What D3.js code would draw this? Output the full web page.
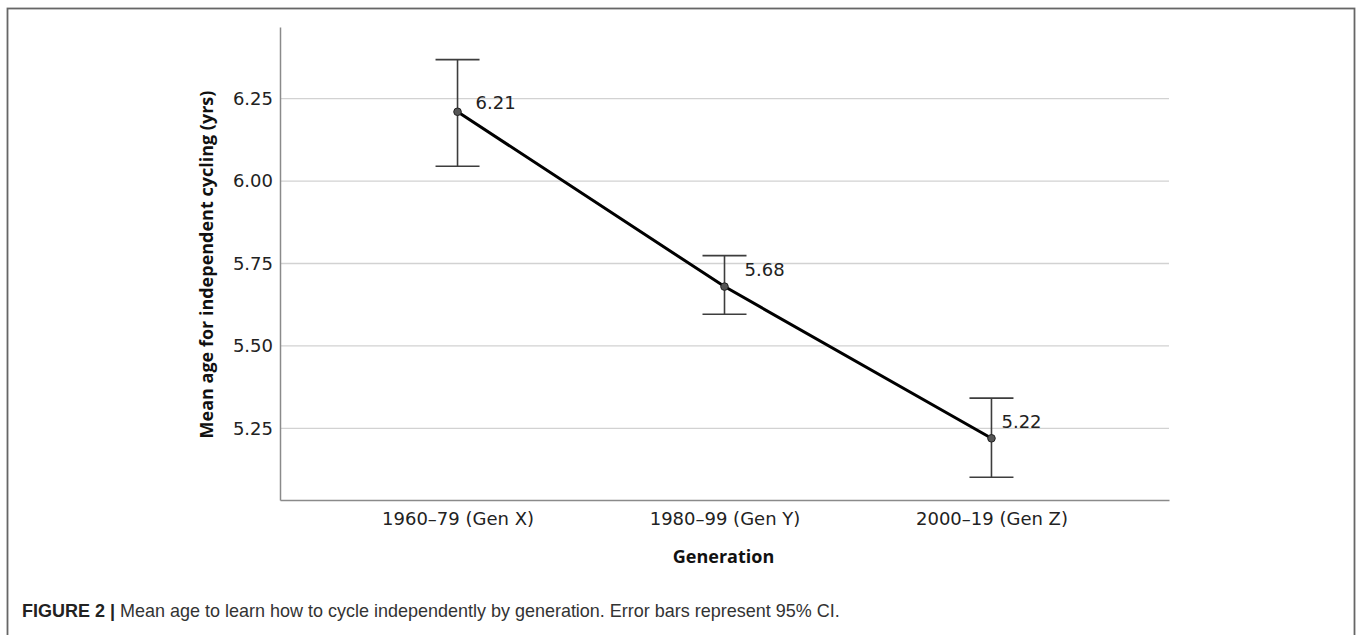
<!DOCTYPE html>
<html>
<head>
<meta charset="utf-8">
<script src="https://cdn.jsdelivr.net/npm/d3@7"></script>
<style>
  body { margin: 0; background: #fff; }
  .tick-label { font-family: "DejaVu Sans", sans-serif; font-size: 18px; fill: #222; }
  .axis-title { font-family: "Open Sans", sans-serif; font-size: 18px; font-weight: bold; fill: #111; }
  .caption { font-family: "Liberation Sans", Arial, sans-serif; font-size: 17px; fill: #333; }
</style>
</head>
<body>
<div id="chart"></div>
<script>
// data
const generations = ["1960–79 (Gen X)", "1980–99 (Gen Y)", "2000–19 (Gen Z)"];
const means = [6.21, 5.68, 5.22];
const ciLower = [6.045, 5.596, 5.102];
const ciUpper = [6.368, 5.774, 5.342];
const yTicks = [5.25, 5.5, 5.75, 6.0, 6.25];
const yDomain = [5.033, 6.467];

const width = 1357, height = 635;
const margin = { top: 27, right: 188, bottom: 135, left: 280 };
const innerW = width - margin.left - margin.right;
const innerH = height - margin.top - margin.bottom;

const svg = d3.select("#chart").append("svg")
  .attr("width", width)
  .attr("height", height);

// figure frame (bottom edge runs off the page)
svg.append("rect")
  .attr("x", 7.5).attr("y", 8.5)
  .attr("width", 1347).attr("height", 700)
  .attr("fill", "none")
  .attr("stroke", "#666")
  .attr("stroke-width", 1.8);

const chart = svg.append("g")
  .attr("transform", `translate(${margin.left},${margin.top})`);

const x = d3.scalePoint().domain(generations).range([0, innerW]).padding(0.665);
const y = d3.scaleLinear().domain(yDomain).range([innerH, 0]);

// gridlines
chart.append("g")
  .selectAll("line")
  .data(yTicks)
  .join("line")
  .attr("x1", 0).attr("x2", innerW)
  .attr("y1", d => y(d)).attr("y2", d => y(d))
  .attr("stroke", "#d2d2d2")
  .attr("stroke-width", 1.3);

// y axis
const yAxis = d3.axisLeft(y).tickValues(yTicks).tickFormat(d3.format(".2f")).tickSize(0).tickPadding(7);
const yG = chart.append("g").call(yAxis);
yG.select(".domain").attr("stroke", "#8a8a8a").attr("stroke-width", 1.5);
yG.selectAll("text").attr("class", "tick-label").attr("font-size", null).attr("font-family", null);

// x axis
const xAxis = d3.axisBottom(x).tickSize(0).tickPadding(12);
const xG = chart.append("g").attr("transform", `translate(0,${innerH})`).call(xAxis);
xG.select(".domain").attr("stroke", "#8a8a8a").attr("stroke-width", 1.5);
xG.selectAll("text").attr("class", "tick-label").attr("font-size", null).attr("font-family", null);

// axis titles
chart.append("text")
  .attr("class", "axis-title")
  .attr("transform", `translate(${-72},${innerH / 2 + 1}) rotate(-90)`)
  .attr("text-anchor", "middle")
  .attr("dominant-baseline", "middle")
  .text("Mean age for independent cycling (yrs)");

chart.append("text")
  .attr("class", "axis-title")
  .attr("x", innerW / 2 - 1)
  .attr("y", innerH + 63)
  .attr("text-anchor", "middle")
  .text("Generation");

const pts = generations.map((g, i) => ({ g, m: means[i], lo: ciLower[i], hi: ciUpper[i] }));

// error bars
const capW = 22;
const eb = chart.append("g").selectAll("g").data(pts).join("g")
  .attr("stroke", "#3d3d3d").attr("stroke-width", 1.6);
eb.append("line")
  .attr("x1", d => x(d.g)).attr("x2", d => x(d.g))
  .attr("y1", d => y(d.lo)).attr("y2", d => y(d.hi));
eb.append("line")
  .attr("x1", d => x(d.g) - capW).attr("x2", d => x(d.g) + capW)
  .attr("y1", d => y(d.hi)).attr("y2", d => y(d.hi));
eb.append("line")
  .attr("x1", d => x(d.g) - capW).attr("x2", d => x(d.g) + capW)
  .attr("y1", d => y(d.lo)).attr("y2", d => y(d.lo));

// mean line
chart.append("path")
  .datum(pts)
  .attr("fill", "none")
  .attr("stroke", "#000")
  .attr("stroke-width", 3)
  .attr("d", d3.line().x(d => x(d.g)).y(d => y(d.m)));

chart.append("g").selectAll("circle").data(pts).join("circle")
  .attr("cx", d => x(d.g)).attr("cy", d => y(d.m))
  .attr("r", 3.8)
  .attr("fill", "#555")
  .attr("stroke", "#222")
  .attr("stroke-width", 1);

// value labels, nudged like the SPSS output
const nudge = [[18, -8], [20, -16], [10, -15]];
chart.append("g").selectAll("text").data(pts).join("text")
  .attr("class", "tick-label")
  .attr("x", (d, i) => x(d.g) + nudge[i][0])
  .attr("y", (d, i) => y(d.m) + nudge[i][1])
  .attr("dominant-baseline", "middle")
  .text(d => d3.format(".2f")(d.m));

// caption
const cap = svg.append("text")
  .attr("class", "caption")
  .attr("x", 22)
  .attr("y", 617);
cap.append("tspan").attr("font-weight", "bold").attr("fill", "#222").text("FIGURE 2 | ");
cap.append("tspan").text("Mean age to learn how to cycle independently by generation. Error bars represent 95% CI.");

// the original caption runs to about x = 840; scale the font to match
const capLen = cap.node().getComputedTextLength();
cap.style("font-size", (17 * 818 / capLen).toFixed(2) + "px");
</script>
</body>
</html>
